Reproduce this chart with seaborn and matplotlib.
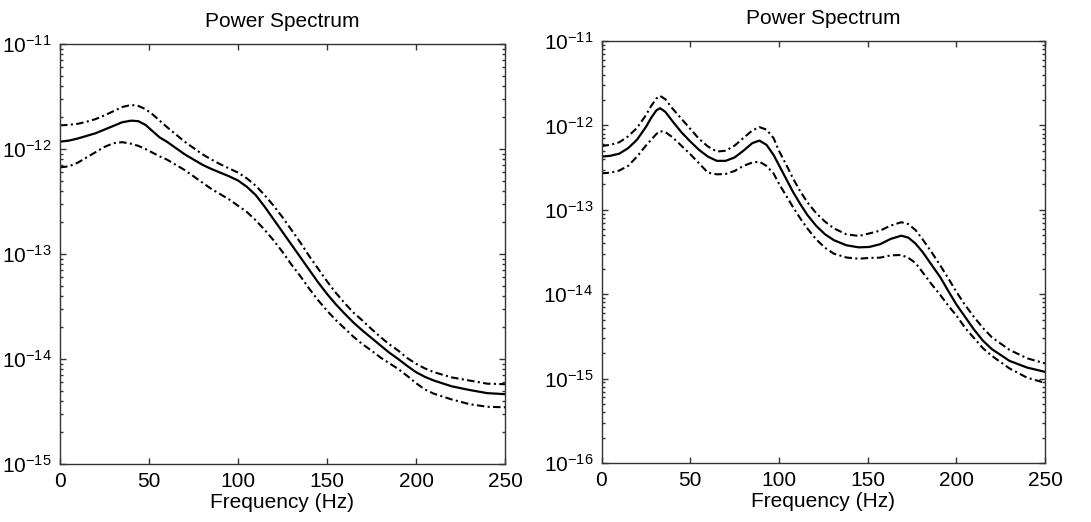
import numpy as np
import pandas as pd
import matplotlib
matplotlib.use("Agg")
import matplotlib.pyplot as plt
from matplotlib.ticker import FixedLocator, NullFormatter, LogFormatterSciNotation
import seaborn as sns

# ---------------- data ----------------
# Values are given as base-10 exponents of the power.
freq_left = [0, 5, 10, 15, 20, 25, 30, 35, 40, 44, 48, 52, 56, 60, 65, 70, 75, 80, 85,
             90, 95, 100, 105, 110, 115, 120, 125, 130, 135, 140, 145, 150, 155, 160,
             165, 170, 175, 180, 185, 190, 195, 200, 205, 210, 220, 230, 240, 250]
left_mean_exp = [-11.93, -11.92, -11.90, -11.875, -11.85, -11.815, -11.78, -11.745,
                 -11.73, -11.735, -11.77, -11.83, -11.89, -11.93, -11.99, -12.05, -12.10,
                 -12.15, -12.19, -12.225, -12.26, -12.30, -12.36, -12.44, -12.55, -12.67,
                 -12.79, -12.91, -13.03, -13.15, -13.27, -13.38, -13.48, -13.57, -13.655,
                 -13.73, -13.80, -13.87, -13.94, -14.0, -14.065, -14.125, -14.17, -14.205,
                 -14.26, -14.295, -14.325, -14.335]
left_upper_exp = [-11.775, -11.77, -11.76, -11.74, -11.715, -11.68, -11.64, -11.60,
                  -11.58, -11.59, -11.62, -11.67, -11.73, -11.79, -11.86, -11.93, -11.99,
                  -12.05, -12.10, -12.145, -12.185, -12.225, -12.28, -12.35, -12.44,
                  -12.54, -12.65, -12.77, -12.89, -13.02, -13.14, -13.26, -13.37, -13.47,
                  -13.56, -13.635, -13.715, -13.79, -13.86, -13.92, -13.99, -14.045,
                  -14.09, -14.125, -14.175, -14.205, -14.235, -14.24]
left_lower_exp = [-12.175, -12.165, -12.13, -12.08, -12.03, -11.98, -11.945, -11.935,
                  -11.95, -11.97, -12.0, -12.035, -12.07, -12.10, -12.15, -12.20, -12.26,
                  -12.32, -12.38, -12.43, -12.48, -12.54, -12.60, -12.68, -12.77, -12.87,
                  -12.98, -13.10, -13.21, -13.33, -13.44, -13.54, -13.63, -13.71, -13.79,
                  -13.86, -13.92, -13.985, -14.04, -14.095, -14.16, -14.23, -14.29, -14.33,
                  -14.385, -14.43, -14.455, -14.46]

freq_right = [0, 5, 10, 15, 20, 25, 28, 31, 33, 36, 40, 45, 50, 55, 60, 65, 70, 75, 80,
              85, 89, 93, 97, 100, 104, 108, 112, 116, 121, 126, 131, 138, 145, 151, 157,
              163, 169, 173, 177, 181, 186, 191, 196, 200, 205, 210, 215, 220, 230, 240,
              250]
right_mean_exp = [-12.37, -12.36, -12.335, -12.27, -12.17, -12.02, -11.91, -11.82,
                  -11.796, -11.84, -11.95, -12.08, -12.19, -12.29, -12.37, -12.42, -12.42,
                  -12.38, -12.30, -12.21, -12.18, -12.23, -12.35, -12.47, -12.63, -12.79,
                  -12.93, -13.06, -13.19, -13.29, -13.36, -13.42, -13.445, -13.44, -13.408,
                  -13.345, -13.307, -13.33, -13.40, -13.50, -13.65, -13.80, -13.98, -14.12,
                  -14.27, -14.42, -14.55, -14.65, -14.79, -14.87, -14.92]
right_upper_exp = [-12.245, -12.23, -12.20, -12.13, -12.03, -11.88, -11.77, -11.68,
                   -11.65, -11.69, -11.80, -11.92, -12.04, -12.16, -12.25, -12.31, -12.30,
                   -12.24, -12.15, -12.06, -12.02, -12.05, -12.15, -12.30, -12.46, -12.63,
                   -12.78, -12.91, -13.04, -13.14, -13.22, -13.29, -13.31, -13.28, -13.247,
                   -13.187, -13.147, -13.17, -13.24, -13.35, -13.50, -13.66, -13.83,
                   -13.97, -14.13, -14.27, -14.40, -14.51, -14.66, -14.76, -14.82]
right_lower_exp = [-12.568, -12.56, -12.535, -12.48, -12.37, -12.24, -12.17, -12.10,
                   -12.068, -12.08, -12.14, -12.24, -12.34, -12.45, -12.56, -12.58, -12.575,
                   -12.54, -12.48, -12.44, -12.43, -12.48, -12.57, -12.69, -12.83, -12.97,
                   -13.10, -13.22, -13.35, -13.45, -13.52, -13.565, -13.58, -13.57, -13.567,
                   -13.54, -13.535, -13.57, -13.63, -13.74, -13.88, -14.01, -14.15, -14.25,
                   -14.40, -14.52, -14.64, -14.73, -14.88, -14.99, -15.05]

x_ticks = [0, 50, 100, 150, 200, 250]
y_ticks_left = [1e-15, 1e-14, 1e-13, 1e-12, 1e-11]
y_ticks_right = [1e-16, 1e-15, 1e-14, 1e-13, 1e-12, 1e-11]
title_text = "Power Spectrum"
xlabel_text = "Frequency (Hz)"

# ---------------- style ----------------
sns.set_theme(style="ticks")
plt.rcParams["font.family"] = ["Liberation Sans", "DejaVu Sans"]
plt.rcParams["mathtext.fontset"] = "custom"
plt.rcParams["mathtext.rm"] = "Liberation Sans"
plt.rcParams["mathtext.it"] = "Liberation Sans"
plt.rcParams["mathtext.default"] = "regular"
plt.rcParams["text.color"] = "black"
plt.rcParams["axes.labelcolor"] = "black"
plt.rcParams["xtick.color"] = "black"
plt.rcParams["ytick.color"] = "black"

fig = plt.figure(figsize=(10.91, 5.22), dpi=100)
fig.patch.set_facecolor("white")
ax_l = fig.add_axes([60 / 1091, 58 / 522, 445 / 1091, 420 / 522])
ax_r = fig.add_axes([601.5 / 1091, 59 / 522, 443.5 / 1091, 422 / 522])

dashdot = (0, (3.6, 1.6, 1.0, 1.6))

panels = [
    (ax_l, freq_left, left_mean_exp, left_upper_exp, left_lower_exp, y_ticks_left),
    (ax_r, freq_right, right_mean_exp, right_upper_exp, right_lower_exp, y_ticks_right),
]

for ax, fq, m, up, lo, yt in panels:
    df = pd.DataFrame({"freq": fq,
                       "mean": np.power(10.0, m),
                       "upper": np.power(10.0, up),
                       "lower": np.power(10.0, lo)})
    sns.lineplot(data=df, x="freq", y="upper", ax=ax, color="black", lw=1.5,
                 linestyle=dashdot)
    sns.lineplot(data=df, x="freq", y="lower", ax=ax, color="black", lw=1.5,
                 linestyle=dashdot)
    sns.lineplot(data=df, x="freq", y="mean", ax=ax, color="black", lw=1.6)
    ax.set_yscale("log")
    ax.set_xlim(0, 250)
    ax.set_ylim(yt[0], yt[-1])
    ax.set_facecolor("white")
    minor = [s * d for d in yt[:-1] for s in range(2, 10)]
    ax.xaxis.set_major_locator(FixedLocator(x_ticks))
    ax.yaxis.set_major_locator(FixedLocator(yt))
    ax.yaxis.set_minor_locator(FixedLocator(minor))
    ax.yaxis.set_minor_formatter(NullFormatter())
    ax.yaxis.set_major_formatter(LogFormatterSciNotation())
    ax.tick_params(axis="both", which="major", direction="in", length=4.5, width=1.0,
                   top=True, right=True, color="#333333", labelsize=15, pad=6,
                   labelcolor="black")
    ax.tick_params(axis="y", which="minor", direction="in", length=2.5, width=1.0,
                   left=True, right=True, color="#333333")
    ax.tick_params(axis="x", which="minor", bottom=False, top=False)
    for s in ax.spines.values():
        s.set_visible(True)
        s.set_color("#333333")
        s.set_linewidth(1.0)
    ax.set_title(title_text, fontsize=15, pad=12, color="black")
    ax.set_xlabel(xlabel_text, fontsize=15, labelpad=1, color="black")
    ax.set_ylabel("")
    ax.grid(False)

fig.savefig("out.png", dpi=100, facecolor="white")
